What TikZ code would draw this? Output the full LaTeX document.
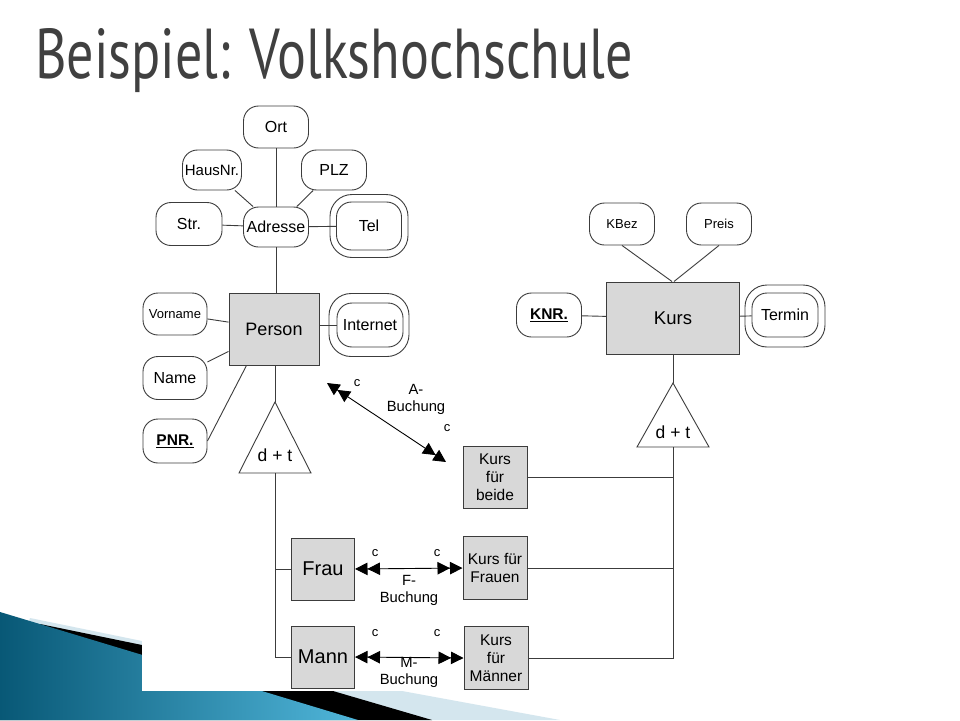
\documentclass[tikz,border=0pt]{standalone}
\usepackage{fontspec}
\setmainfont{Liberation Sans}
\newfontfamily\titlefont{PT Sans}
\usetikzlibrary{arrows.meta,fit}

\definecolor{boxgray}{RGB}{216,216,216}
\definecolor{linec}{RGB}{60,60,60}
\definecolor{titlec}{RGB}{64,64,64}
\definecolor{tealdark}{RGB}{8,88,118}
\definecolor{teallight}{RGB}{80,182,218}
\definecolor{paleblue}{RGB}{212,230,238}

\tikzset{
  dtip/.tip={Triangle[length=12.5pt,width=12.5pt]Triangle[length=12.5pt,width=12.5pt]},
}

\begin{document}
\begin{tikzpicture}[x=1pt,y=-1pt,
  conn/.style={draw=linec, line width=0.9pt},
  biarrow/.style={draw=black, line width=0.9pt, dtip-dtip},
  attr/.style={draw=linec, line width=0.9pt, fill=white, rounded corners=15pt,
     minimum width=65pt, minimum height=42pt, inner sep=0pt,
     font=\fontsize{16}{18}\selectfont},
  attrouter/.style={draw=linec, line width=0.9pt, rounded corners=22pt, inner sep=0pt},
  ent/.style={draw=linec, line width=1pt, fill=boxgray, inner sep=0pt,
     align=center, font=\fontsize{15.5}{18}\selectfont},
  lbl/.style={inner sep=0pt, align=center, font=\fontsize{14.8}{17}\selectfont},
  clbl/.style={inner sep=0pt, font=\fontsize{13}{14}\selectfont},
  tri/.style={draw=linec, line width=0.9pt, fill=white},
  tritext/.style={inner sep=0pt, font=\fontsize{17.5}{19}\selectfont}
]
\useasboundingbox (0,0) rectangle (960,720);
\fill[white] (0,0) rectangle (960,720);

% decorations
\fill[paleblue] (30,618) -- (142,641) -- (402,691) -- (560,720) -- (0,720) -- cycle;
\fill[black] (40,624) -- (142,645) -- (333,691) -- (432,720) -- (0,720) -- cycle;
\shade[left color=tealdark, right color=teallight] (0,612) -- (358,720) -- (0,720) -- cycle;
\fill[white] (142,95) rectangle (860,691);

% title
\node[anchor=base west, inner sep=0pt, text=titlec] (title) at (35,78)
  {\resizebox{597pt}{50pt}{\titlefont Beispiel: Volkshochschule}};

% Person side attributes
\node[attr] (ort) at (276,127) {Ort};
\node[attr, minimum width=59pt, minimum height=40pt, font=\fontsize{15}{17}\selectfont] (hausnr) at (212,170) {HausNr.};
\node[attr, minimum height=40pt] (plz) at (334,170) {PLZ};
\node[attr, minimum width=66pt, minimum height=43pt] (str) at (189,224) {Str.};
\node[attr, minimum height=40pt] (adresse) at (276,227) {Adresse};
\node[attrouter, minimum width=78pt, minimum height=63pt] (telo) at (369,226) {};
\node[attr, minimum width=65pt, minimum height=48pt] (tel) at (369,226) {Tel};

\node[ent, minimum width=90pt, minimum height=72pt, font=\fontsize{18}{20}\selectfont] (person) at (274,329) {Person};
\node[attr, minimum width=64pt, font=\fontsize{13}{14}\selectfont] (vorname) at (175,314) {Vorname};
\node[attr, minimum width=64pt, minimum height=43pt] (name) at (175,378) {Name};
\node[attr, minimum width=64pt, minimum height=44pt, font=\bfseries\fontsize{15.5}{17}\selectfont] (pnr) at (175,441) {\underline{PNR.}};
\node[attrouter, minimum width=80pt, minimum height=63pt] (interneto) at (369,325) {};
\node[attr, minimum width=66pt, minimum height=44pt] (internet) at (370,325) {Internet};

% Kurs side
\node[ent, minimum width=133pt, minimum height=72pt, font=\fontsize{18.5}{20}\selectfont] (kurs) at (673,318) {Kurs};
\node[attr, font=\fontsize{13}{14}\selectfont] (kbez) at (622,224) {KBez};
\node[attr, font=\fontsize{13}{14}\selectfont] (preis) at (719,224) {Preis};
\node[attr, minimum height=44pt, font=\bfseries\fontsize{15.5}{17}\selectfont] (knr) at (549,315) {\underline{KNR.}};
\node[attrouter, minimum width=80pt, minimum height=62pt] (termino) at (785,316) {};
\node[attr, minimum width=66pt, minimum height=44pt] (termin) at (785,315) {Termin};

% triangles
\coordinate (t1a) at (275,402);
\coordinate (t1l) at (239,473);
\coordinate (t1r) at (311,473);
\coordinate (t1b) at (275,473);
\draw[tri] (t1a) -- (t1r) -- (t1l) -- cycle;
\node[tritext] (t1) at (275,455) {d + t};

\coordinate (t2a) at (673,383);
\coordinate (t2l) at (637,447);
\coordinate (t2r) at (709,447);
\coordinate (t2b) at (673,447);
\draw[tri] (t2a) -- (t2r) -- (t2l) -- cycle;
\node[tritext] (t2) at (673,432) {d + t};

% subclasses
\node[ent, minimum width=63pt, minimum height=62pt, font=\fontsize{20}{22}\selectfont] (frau) at (323,569) {Frau};
\node[ent, minimum width=63pt, minimum height=62pt, font=\fontsize{20}{22}\selectfont] (mann) at (323,657) {Mann};
\node[ent, minimum width=64pt, minimum height=62pt] (kbeide) at (495,477) {Kurs\\für\\beide};
\node[ent, minimum width=64pt, minimum height=63pt] (kfrau) at (495,568) {Kurs für\\Frauen};
\node[ent, minimum width=64pt, minimum height=63pt] (kmann) at (496,658) {Kurs\\für\\Männer};

% connectors person side
\draw[conn] (ort) -- (adresse);
\draw[conn] (hausnr) -- (adresse);
\draw[conn] (plz) -- (adresse);
\draw[conn] (str) -- (adresse);
\draw[conn] (adresse) -- (tel);
\draw[conn] (adresse.south) -- (adresse.south |- person.north);
\draw[conn] (vorname) -- (person);
\draw[conn] (name) -- (person);
\draw[conn] (pnr.east) -- (person.-127);
\draw[conn] (person.east |- internet) -- (internet);
\draw[conn] (person.south -| t1a) -- (t1a);
\draw[conn] (t1b) |- (mann.west);
\draw[conn] (t1b |- frau.west) -- (frau.west);

% connectors kurs side
\draw[conn] (kbez.south) -- ([xshift=-1pt]kurs.north);
\draw[conn] (preis.south) -- ([xshift=1pt]kurs.north);
\draw[conn] (knr) -- (kurs);
\draw[conn] (kurs) -- (termin);
\draw[conn] (kurs.south) -- (t2a);
\draw[conn] (t2b) |- (kmann.east);
\draw[conn] (t2b |- kbeide.east) -- (kbeide.east);
\draw[conn] (t2b |- kfrau.east) -- (kfrau.east);

% relationships
\coordinate (aS) at (327,383);
\coordinate (aE) at (446,462);
\draw[biarrow] (aS) -- (aE);
\draw[biarrow] (frau.east) -- (kfrau.west);
\draw[biarrow] (mann.east) -- (kmann.west);

\node[clbl] (ca1) at (357,383) {c};
\node[clbl] (ca2) at (447,428) {c};
\node[lbl] (abuch) at (416,399) {A-\\Buchung};
\node[clbl] (cf1) at (375,553) {c};
\node[clbl] (cf2) at (437,553) {c};
\node[lbl] (fbuch) at (409,590) {F-\\Buchung};
\node[clbl] (cm1) at (375,633) {c};
\node[clbl] (cm2) at (437,633) {c};
\node[lbl] (mbuch) at (409,672) {M-\\Buchung};
\end{tikzpicture}
\end{document}
